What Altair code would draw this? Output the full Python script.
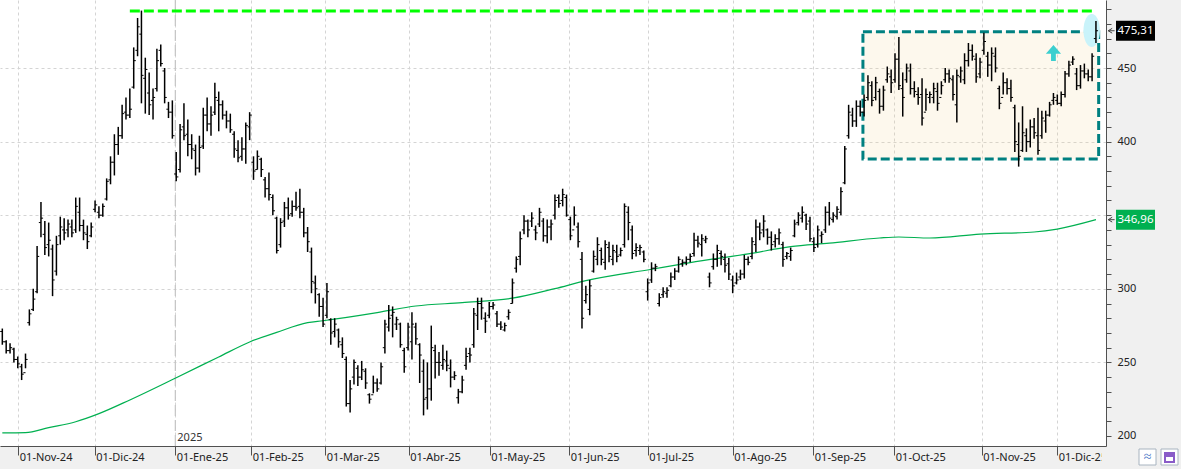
import json
import altair as alt
import pandas as pd

# ---------------- data ----------------
high = [273,265,263,260,254,249,256,286,300,329,
        359,346,345,330,336,349,348,347,347,362,
        362,347,343,345,360,356,358,375,390,405,
        410,425,430,436,464,484,489,457,447,436,
        463,466,450,427,428,393,412,426,415,405,
        398,404,423,430,424,440,434,428,421,419,
        407,401,403,413,420,390,394,389,376,379,
        364,349,348,359,362,360,366,368,355,342,
        328,309,297,294,304,280,280,273,267,254,
        238,252,248,251,246,229,241,239,250,279,
        289,288,281,277,260,277,284,277,263,252,
        250,275,262,257,262,258,252,244,232,241,
        260,260,287,294,294,284,291,291,285,278,
        277,286,307,322,339,350,347,352,343,355,
        348,347,347,364,364,368,364,349,356,345,
        325,302,306,326,335,328,333,332,330,330,
        328,358,356,343,331,330,326,307,318,317,
        297,301,301,311,314,322,320,322,324,338,
        336,337,336,311,324,330,326,324,321,309,
        311,313,323,322,335,347,345,350,341,339,
        337,341,332,325,328,347,352,356,351,349,
        335,343,339,356,359,352,356,369,397,425,
        423,428,428,432,445,441,444,436,438,451,
        449,460,471,447,453,453,441,437,443,436,
        434,440,440,441,450,449,445,449,451,460,
        467,466,460,457,474,461,464,464,438,447,
        443,442,425,413,424,409,415,416,423,421,
        421,427,433,432,434,448,455,458,450,452,
        453,449,460,482]

low = [262,256,256,250,246,238,246,275,285,297,
       335,323,322,295,309,330,333,335,335,338,
       339,333,327,335,352,348,349,360,371,377,
       391,402,415,416,436,458,426,419,418,415,
       434,451,426,416,402,373,379,401,390,388,
       377,379,395,407,404,418,407,415,409,406,
       389,386,387,385,401,374,381,376,362,360,
       350,324,328,342,347,349,353,348,335,325,
       297,290,281,274,280,262,267,260,253,220,
       216,235,234,238,232,222,229,230,235,256,
       271,267,272,260,243,258,252,262,236,214,
       218,224,239,241,245,244,233,238,222,229,
       245,250,260,272,279,270,280,286,274,272,
       271,279,290,311,316,337,335,342,333,342,
       332,331,333,347,355,356,349,333,343,328,
       273,290,282,311,316,316,313,318,316,318,
       322,328,333,320,322,323,318,292,304,312,
       288,294,294,301,306,311,315,316,318,322,
       328,322,331,301,313,315,316,311,306,297,
       303,306,307,316,320,325,333,335,330,326,
       328,330,315,320,319,335,343,345,340,332,
       325,328,331,338,343,345,347,350,371,402,
       410,410,417,417,428,424,428,419,421,440,
       433,440,435,417,440,432,430,425,411,421,
       426,426,421,432,440,440,428,413,440,439,
       451,455,440,443,459,444,441,447,422,432,
       432,427,393,383,393,393,396,402,391,402,
       406,417,425,425,424,430,444,452,435,436,
       443,441,441,467]

open_ = [271,264,258,259,252,247,243,277,286,298,
         345,337,330,327,312,336,340,340,342,340,
         352,343,337,336,354,352,350,361,374,386,
         398,404,420,418,437,462,473,443,433,428,
         436,462,448,422,420,378,381,410,405,398,
         394,382,397,418,412,420,428,425,418,414,
         405,394,390,395,410,386,381,388,374,368,
         362,348,330,346,355,351,356,356,352,338,
         325,304,296,288,282,279,271,272,262,252,
         222,240,246,240,244,228,228,236,236,260,
         274,282,276,276,258,260,264,274,262,244,
         226,232,258,250,248,251,246,240,226,230,
         248,256,262,282,290,280,282,288,283,276,
         272,281,290,314,322,340,346,346,340,344,
         346,336,342,350,362,360,362,347,340,342,
         320,292,286,312,320,326,318,328,320,325,
         323,330,352,340,326,326,325,298,306,314,
         290,296,297,302,308,312,317,318,320,324,
         333,330,333,308,315,320,324,320,317,306,
         304,308,310,320,322,330,342,340,340,335,
         332,334,330,322,322,336,345,348,350,346,
         332,330,336,340,352,347,349,352,372,404,
         418,414,424,420,430,438,430,434,424,442,
         444,442,456,436,442,448,436,432,432,420,
         430,430,434,430,442,446,442,425,444,442,
         455,462,456,446,462,458,452,458,436,430,
         440,436,423,398,394,404,400,410,404,404,
         414,418,428,428,426,432,446,454,446,438,
         448,446,444,470]

close = [264,258,260,252,249,242,252,283,293,322,
         348,328,333,306,330,342,338,344,338,356,
         343,338,332,342,357,350,356,373,386,398,
         404,419,418,422,455,478,445,449,425,430,
         455,453,430,420,404,376,408,404,398,395,
         382,396,418,412,418,430,425,418,414,408,
         395,389,395,411,418,380,390,381,368,364,
         353,326,345,355,350,356,355,352,338,332,
         305,300,288,276,298,270,276,264,256,222,
         232,250,240,245,236,225,236,232,247,276,
         280,284,279,262,247,274,276,266,255,225,
         232,260,250,250,252,248,240,241,230,238,
         254,255,283,290,287,278,288,289,276,274,
         275,284,304,320,334,346,340,348,338,352,
         336,342,344,360,358,364,350,336,350,332,
         280,296,302,322,330,320,330,322,326,322,
         326,356,345,324,328,328,320,304,314,315,
         294,298,299,308,312,320,318,320,322,333,
         331,334,334,304,320,326,322,316,310,302,
         306,310,320,318,332,342,338,346,335,330,
         334,338,320,324,326,344,350,352,344,334,
         328,340,337,352,348,350,354,366,395,420,
         414,424,420,428,440,428,440,424,435,446,
         440,456,438,430,450,436,434,430,416,432,
         432,436,426,438,446,443,432,445,448,455,
         462,458,444,454,468,452,460,450,426,440,
         436,430,400,390,406,400,410,406,394,416,
         418,425,430,426,432,446,452,456,438,448,
         446,444,458,475.31]

# moving average (green line), read at selected bar positions
ma_idx = [0, 6, 12, 19, 25, 33, 45, 56, 64, 71, 79, 83, 97, 107, 119, 132,
          143, 151, 168, 178, 193, 204, 214, 227, 232, 240, 253, 267, 273, 283]
ma_val = [202.1, 202.3, 205.7, 209.7, 215.2, 224.5, 239.6, 253.7, 263.9, 270.4,
          277.0, 278.3, 283.8, 288.3, 290.6, 293.6, 300.1, 305.5, 313.3, 317.8,
          323.7, 328.6, 331.0, 334.5, 335.2, 334.5, 337.2, 338.6, 340.6, 346.96]

# month ticks (bar-index position) and their labels
tick_pos = [4.14, 23.91, 44.77, 64.43, 83.58, 105.16, 126.12, 146.72, 167.01,
            189.0, 209.86, 230.82, 253.43, 272.99]
tick_lab = ["01-Nov-24", "01-Dic-24", "01-Ene-25", "01-Feb-25", "01-Mar-25",
            "01-Abr-25", "01-May-25", "01-Jun-25", "01-Jul-25", "01-Ago-25",
            "01-Sep-25", "01-Oct-25", "01-Nov-25", "01-Dic-25"]
year_pos = [44.77]
year_lab = ["2025"]

# annotations
resist_x = [33.0]
resist_x2 = [282.7]
resist_y = [488.7]
box_x = [222.7]
box_x2 = [283.7]
box_y = [388.2]
box_y2 = [474.7]
arrow_x = [272.0]
arrow_y = [460.2]
ellipse_x = [281.9]
ellipse_y = [475.5]
last_vals = [475.31, 346.96]
last_txt = ["475,31", "346,96"]
last_bg = ["#000000", "#00b050"]

# ---------------- chart ----------------
FONT = "Noto Sans"
xscale = alt.Scale(domain=[-0.6, 285.6], nice=False, zero=False)
yscale = alt.Scale(domain=[193.2, 496.2], nice=False, zero=False)

label_expr = (json.dumps(tick_lab) + "[indexof(" + json.dumps(tick_pos) + ", datum.value)]")
xaxis = alt.Axis(values=tick_pos, labelExpr=label_expr, grid=True, gridDash=[3, 3],
                 gridColor="#d4d4d4", domainColor="#505050", tickColor="#505050",
                 tickSize=9, labelAlign="left", labelOffset=1, labelPadding=-4,
                 labelFontSize=11, labelColor="#222222", labelFont=FONT,
                 labelOverlap=False, labelFlush=False, title=None, zindex=0)
yaxis = alt.Axis(orient="right", values=list(range(200, 500, 10)),
                 labelExpr="(datum.value % 50 == 0 && datum.value != 350) ? datum.label : ''",
                 grid=True, gridDash=[3, 3], gridColor="#d4d4d4",
                 gridOpacity={"condition": {"test": "datum.value % 50 == 0 && datum.value > 200",
                                            "value": 1}, "value": 0},
                 tickSize=5, labelPadding=6, domainColor="#505050", tickColor="#505050",
                 labelFontSize=11, labelColor="#222222", labelFont=FONT,
                 labelOverlap=False, title=None, zindex=0)


def X(field, **kw):
    return alt.X(field, type="quantitative", scale=xscale, axis=xaxis, title=None, **kw)


def Y(field, **kw):
    return alt.Y(field, type="quantitative", scale=yscale, axis=yaxis, title=None, **kw)


df = pd.DataFrame({"i": list(range(len(high))), "high": high, "low": low,
                   "open": open_, "close": close})
ma_df = pd.DataFrame({"i": ma_idx, "ma": ma_val})

box = alt.Chart(pd.DataFrame({"x": box_x, "x2": box_x2, "y": box_y, "y2": box_y2})).mark_rect(
    fill="#f5d89a", fillOpacity=0.18, stroke="#008080", strokeWidth=3, strokeDash=[9, 4]
).encode(x=X("x"), x2="x2", y=Y("y"), y2="y2")

year_rule = alt.Chart(pd.DataFrame({"x": year_pos})).mark_rule(
    color="#c4c4c4", strokeWidth=1.2, strokeDash=[11, 4]
).encode(x=X("x"))

year_text = alt.Chart(pd.DataFrame({"x": year_pos, "t": year_lab})).mark_text(
    align="left", baseline="middle", dx=2, fontSize=11, font=FONT, color="#333333"
).encode(x=X("x"), y=alt.value(438), text="t:N")

ma_line = alt.Chart(ma_df).mark_line(color="#00b050", strokeWidth=1.2,
                                     interpolate="monotone").encode(
    x=X("i"), y=Y("ma"))

resist = alt.Chart(pd.DataFrame({"x": resist_x, "x2": resist_x2, "y": resist_y})).mark_rule(
    color="#00ff00", strokeWidth=3, strokeDash=[10, 4]
).encode(x=X("x"), x2="x2", y=Y("y"))

ellipse_path = "M-0.5,0 A0.5,1 0 1,0 0.5,0 A0.5,1 0 1,0 -0.5,0 Z"
ellipse = alt.Chart(pd.DataFrame({"x": ellipse_x, "y": ellipse_y})).mark_point(
    shape=ellipse_path, size=1089, filled=True, color="#c9f3fa", opacity=1, strokeWidth=0
).encode(x=X("x"), y=Y("y"))

bars = alt.Chart(df).mark_rule(color="black", strokeWidth=1.5).encode(
    x=X("i"), y=Y("low"), y2="high")
opens = alt.Chart(df).transform_calculate(xl="datum.i - 0.55").mark_rule(
    color="black", strokeWidth=1).encode(x=X("xl"), x2="i:Q", y=Y("open"))
closes = alt.Chart(df).transform_calculate(xr="datum.i + 0.55").mark_rule(
    color="black", strokeWidth=1).encode(x=X("i"), x2="xr:Q", y=Y("close"))

arrow_path = "M0,-1 L0.95,0.1 L0.3,0.1 L0.3,1 L-0.3,1 L-0.3,0.1 L-0.95,0.1 Z"
arrow = alt.Chart(pd.DataFrame({"x": arrow_x, "y": arrow_y})).mark_point(
    shape=arrow_path, size=256, filled=True, color="#3ccfcf", opacity=1, strokeWidth=0
).encode(x=X("x"), y=Y("y"))

lab_df = pd.DataFrame({"v": last_vals, "t": last_txt, "bg": last_bg})
box_path = "M-1,-0.513 L1,-0.513 L1,0.513 L-1,0.513 Z"
lab_box = alt.Chart(lab_df).mark_point(
    shape=box_path, size=1521, filled=True, opacity=1, strokeWidth=0
).encode(x=alt.value(1135.5), y=Y("v"), color=alt.Color("bg:N", scale=None, legend=None))
lab_text = alt.Chart(lab_df).mark_text(
    color="white", fontSize=11.5, font=FONT, baseline="middle", align="center"
).encode(x=alt.value(1135.5), y=Y("v"), text="t:N")
lab_ptr = alt.Chart(lab_df).mark_point(
    shape="M0.3,-0.6 L-0.7,0 L0.3,0.6 M-0.7,0 L0.9,0", size=64, filled=False,
    color="#444444", opacity=1, strokeWidth=1
).encode(x=alt.value(1111), y=Y("v"))

# cover for the clipped last date label and the two small buttons (outside plot)
cover = alt.Chart(pd.DataFrame({"a": [0]})).mark_rect(color="#f0f0f0").encode(
    x=alt.value(1102), x2=alt.value(1181), y=alt.value(447), y2=alt.value(469))
btn1 = alt.Chart(pd.DataFrame({"a": [0]})).mark_rect(
    fill="white", stroke="#a8b4c0", strokeWidth=1).encode(
    x=alt.value(1139), x2=alt.value(1156), y=alt.value(449), y2=alt.value(465))
btn2 = alt.Chart(pd.DataFrame({"a": [0]})).mark_rect(
    fill="white", stroke="#a8b4c0", strokeWidth=1).encode(
    x=alt.value(1161), x2=alt.value(1178), y=alt.value(449), y2=alt.value(465))
zig = alt.Chart(pd.DataFrame({"a": [0]})).mark_text(
    text="≈", fontSize=14, color="#4a78c8", font=FONT).encode(
    x=alt.value(1147.5), y=alt.value(457))
disk = alt.Chart(pd.DataFrame({"a": [0]})).mark_rect(
    fill="#8a5cc8").encode(
    x=alt.value(1164), x2=alt.value(1175), y=alt.value(452), y2=alt.value(463))
disk_in = alt.Chart(pd.DataFrame({"a": [0]})).mark_rect(
    fill="white").encode(
    x=alt.value(1166), x2=alt.value(1173), y=alt.value(457), y2=alt.value(461))

chart = alt.layer(
    box, year_rule, year_text, ma_line, resist, ellipse, bars, opens, closes, arrow,
    cover, lab_box, lab_text, lab_ptr, btn1, btn2, zig, disk, disk_in
).properties(
    width=1106, height=446,
    padding={"left": 0, "top": 0, "right": 75, "bottom": 23},
    autosize="none", background="#f0f0f0"
).configure_view(fill="white", stroke=None)

chart.save("out.html", embed_options={"renderer": "svg", "actions": False})
